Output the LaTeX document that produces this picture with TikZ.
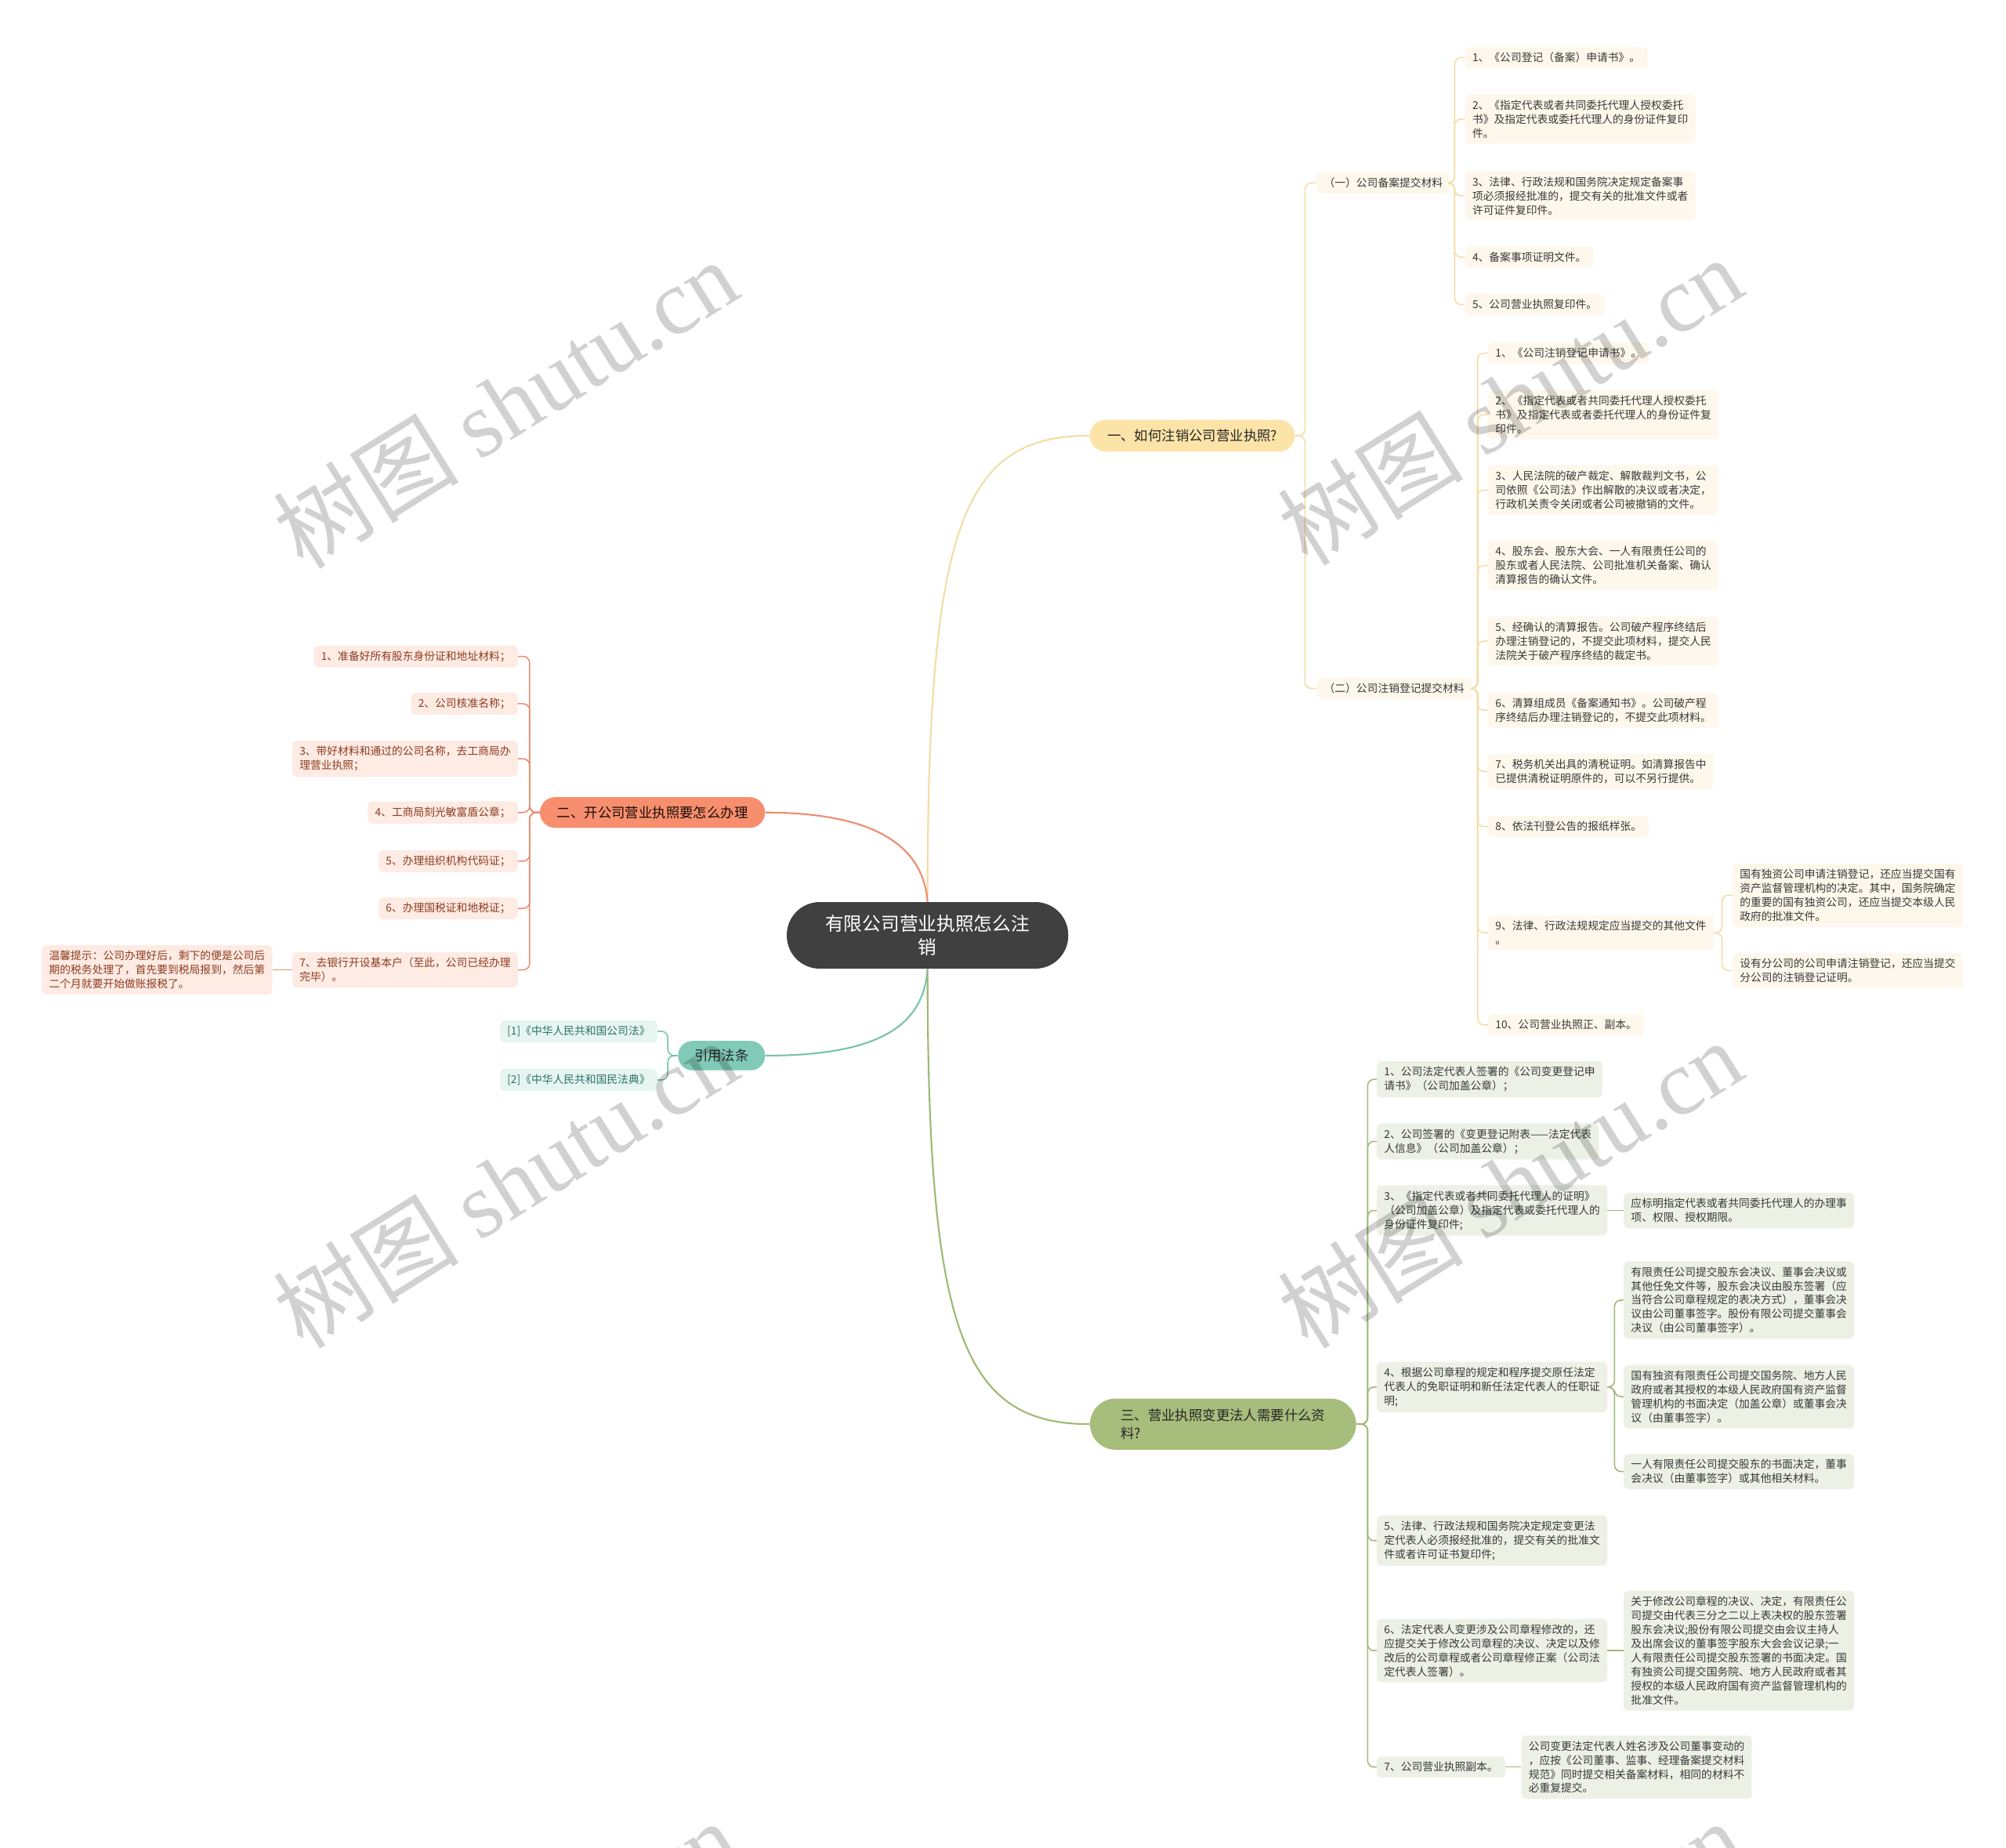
\documentclass[tikz,border=0pt]{standalone}
\usepackage{fontspec}
\setmainfont{Noto Sans CJK SC}
\newfontfamily\markcjk{Noto Sans CJK SC}
\newfontfamily\marklatin{Liberation Serif}
\usetikzlibrary{calc}

\definecolor{rootfill}{HTML}{404040}
\definecolor{yfill}{HTML}{FCE3A8}
\definecolor{yline}{HTML}{F5DCA6}
\definecolor{yleaf}{HTML}{FEF8EC}
\definecolor{ofill}{HTML}{F78F6E}
\definecolor{oline}{HTML}{EC8C6F}
\definecolor{oleaf}{HTML}{FDEBE4}
\definecolor{otext}{HTML}{8E3B1E}
\definecolor{tfill}{HTML}{80CAB7}
\definecolor{tline}{HTML}{76C2AE}
\definecolor{tleaf}{HTML}{E7F5F1}
\definecolor{ttext}{HTML}{2C7463}
\definecolor{gfill}{HTML}{A7BD7B}
\definecolor{gline}{HTML}{A0B874}
\definecolor{gleaf}{HTML}{EDF1E5}

\begin{document}
\begin{tikzpicture}[x=0.03cm, y=-0.03cm,
  root/.style={fill=rootfill, text=white, rounded corners=0.77cm, minimum width=6.6cm,
    minimum height=1.56cm, align=center, font=\fontsize{12.4}{16}\selectfont},
  topic/.style={inner sep=0pt, text=black!85, font=\fontsize{9.1}{12}\selectfont},
  leaf/.style={rounded corners=0.1cm, inner xsep=0.17cm, inner ysep=0.13cm, align=left,
    text=black!78, font=\fontsize{7.2}{9.4}\selectfont},
  yleafbox/.style={leaf, fill=yleaf, anchor=west},
  oleafbox/.style={leaf, fill=oleaf, text=otext, anchor=east},
  tleafbox/.style={leaf, fill=tleaf, text=ttext, anchor=east},
  gleafbox/.style={leaf, fill=gleaf, anchor=west},
  mainlink/.style={line width=1.1pt},
  sublink/.style={line width=0.8pt, rounded corners=0.15cm},
  wmark/.style={rotate=32, text=black, opacity=0.18, font=\fontsize{62}{62}\selectfont}
]

% Page
\fill[white] (0,0) rectangle (1568,1444);
\useasboundingbox (0,0) rectangle (1568,1444);

% Root and main topics
\node[root] (root) at (725,731) {有限公司营业执照怎么注\\销};
\node[topic, fill=yfill, rounded corners=0.37cm, minimum width=4.8cm, minimum height=0.75cm]
  (one) at (932,340.5) {一、如何注销公司营业执照?};
\node[topic, fill=ofill, text=black!80!otext, rounded corners=0.36cm, minimum width=5.28cm, minimum height=0.72cm]
  (two) at (510,635) {二、开公司营业执照要怎么办理};
\node[topic, fill=tfill, rounded corners=0.34cm, minimum width=2.04cm, minimum height=0.69cm]
  (cite) at (564,825) {引用法条};
\node[topic, fill=gfill, rounded corners=0.6cm, minimum width=6.24cm, minimum height=1.2cm, align=left]
  (three) at (956,1113) {三、营业执照变更法人需要什么资\\料?};

\draw[mainlink, yline] (root.north) .. controls (725,410) and (752,340.5) .. (one.west);
\draw[mainlink, oline] (root.north) .. controls (722,665) and (690,635) .. (two.east);
\draw[mainlink, tline] (root.south) .. controls (722,800) and (690,825) .. (cite.east);
\draw[mainlink, gline] (root.south) .. controls (725,1040) and (752,1113) .. (three.west);

% Branch one
\node[yleafbox] (onea) at (1029,143) {（一）公司备案提交材料};
\node[yleafbox] (oneb) at (1029,538) {（二）公司注销登记提交材料};

\node[yleafbox] (oa1) at (1145,45) {1、《公司登记（备案）申请书》。};
\node[yleafbox] (oa2) at (1145,93) {2、《指定代表或者共同委托代理人授权委托\\书》及指定代表或委托代理人的身份证件复印\\件。};
\node[yleafbox] (oa3) at (1145,153) {3、法律、行政法规和国务院决定规定备案事\\项必须报经批准的，提交有关的批准文件或者\\许可证件复印件。};
\node[yleafbox] (oa4) at (1145,201) {4、备案事项证明文件。};
\node[yleafbox] (oa5) at (1145,238) {5、公司营业执照复印件。};

\node[yleafbox] (ob1) at (1163,276) {1、《公司注销登记申请书》。};
\node[yleafbox] (ob2) at (1163,324) {2、《指定代表或者共同委托代理人授权委托\\书》及指定代表或者委托代理人的身份证件复\\印件。};
\node[yleafbox] (ob3) at (1163,383) {3、人民法院的破产裁定、解散裁判文书，公\\司依照《公司法》作出解散的决议或者决定，\\行政机关责令关闭或者公司被撤销的文件。};
\node[yleafbox] (ob4) at (1163,442) {4、股东会、股东大会、一人有限责任公司的\\股东或者人民法院、公司批准机关备案、确认\\清算报告的确认文件。};
\node[yleafbox] (ob5) at (1163,501) {5、经确认的清算报告。公司破产程序终结后\\办理注销登记的，不提交此项材料，提交人民\\法院关于破产程序终结的裁定书。};
\node[yleafbox] (ob6) at (1163,555) {6、清算组成员《备案通知书》。公司破产程\\序终结后办理注销登记的，不提交此项材料。};
\node[yleafbox] (ob7) at (1163,603) {7、税务机关出具的清税证明。如清算报告中\\已提供清税证明原件的，可以不另行提供。};
\node[yleafbox] (ob8) at (1163,646) {8、依法刊登公告的报纸样张。};
\node[yleafbox] (ob9) at (1163,729) {9、法律、行政法规规定应当提交的其他文件\\。};
\node[yleafbox] (ob10) at (1163,801) {10、公司营业执照正、副本。};
\node[yleafbox] (ob9x) at (1354,699.5) {国有独资公司申请注销登记，还应当提交国有\\资产监督管理机构的决定。其中，国务院确定\\的重要的国有独资公司，还应当提交本级人民\\政府的批准文件。};
\node[yleafbox] (ob9y) at (1354,758.5) {设有分公司的公司申请注销登记，还应当提交\\分公司的注销登记证明。};

\foreach \c in {onea,oneb}
  \draw[sublink, yline] (one.east) -| ($(\c.west)+(-9,0)$) -- (\c.west);
\foreach \c in {oa1,oa2,oa3,oa4,oa5}
  \draw[sublink, yline] (onea.east) -| ($(\c.west)+(-8,0)$) -- (\c.west);
\foreach \c in {ob1,ob2,ob3,ob4,ob5,ob6,ob7,ob8,ob9,ob10}
  \draw[sublink, yline] (oneb.east) -| ($(\c.west)+(-8,0)$) -- (\c.west);
\foreach \c in {ob9x,ob9y}
  \draw[sublink, yline] (ob9.east) -| ($(\c.west)+(-8,0)$) -- (\c.west);

% Branch two
\node[oleafbox] (tw1) at (405,513) {1、准备好所有股东身份证和地址材料；};
\node[oleafbox] (tw2) at (405,550) {2、公司核准名称；};
\node[oleafbox] (tw3) at (405,593) {3、带好材料和通过的公司名称，去工商局办\\理营业执照；};
\node[oleafbox] (tw4) at (405,635) {4、工商局刻光敏富盾公章；};
\node[oleafbox] (tw5) at (405,673) {5、办理组织机构代码证；};
\node[oleafbox] (tw6) at (405,710) {6、办理国税证和地税证；};
\node[oleafbox] (tw7) at (405,758) {7、去银行开设基本户（至此，公司已经办理\\完毕）。};
\node[oleafbox] (twtip) at (213,758) {温馨提示：公司办理好后，剩下的便是公司后\\期的税务处理了，首先要到税局报到，然后第\\二个月就要开始做账报税了。};

\foreach \c in {tw1,tw2,tw3,tw4,tw5,tw6,tw7}
  \draw[sublink, oline] (two.west) -| ($(\c.east)+(9,0)$) -- (\c.east);
\draw[sublink, oline] (tw7.west) -- (twtip.east);

% Cited laws
\node[tleafbox] (ci1) at (514,806) {[1]《中华人民共和国公司法》};
\node[tleafbox] (ci2) at (514,844) {[2]《中华人民共和国民法典》};

\foreach \c in {ci1,ci2}
  \draw[sublink, tline] (cite.west) -| ($(\c.east)+(8,0)$) -- (\c.east);

% Branch three
\node[gleafbox] (th1) at (1076,843.5) {1、公司法定代表人签署的《公司变更登记申\\请书》（公司加盖公章）；};
\node[gleafbox] (th2) at (1076,892) {2、公司签署的《变更登记附表——法定代表\\人信息》（公司加盖公章）；};
\node[gleafbox] (th3) at (1076,946) {3、《指定代表或者共同委托代理人的证明》\\（公司加盖公章）及指定代表或委托代理人的\\身份证件复印件;};
\node[gleafbox] (th4) at (1076,1084) {4、根据公司章程的规定和程序提交原任法定\\代表人的免职证明和新任法定代表人的任职证\\明;};
\node[gleafbox] (th5) at (1076,1204) {5、法律、行政法规和国务院决定规定变更法\\定代表人必须报经批准的，提交有关的批准文\\件或者许可证书复印件;};
\node[gleafbox] (th6) at (1076,1290) {6、法定代表人变更涉及公司章程修改的，还\\应提交关于修改公司章程的决议、决定以及修\\改后的公司章程或者公司章程修正案（公司法\\定代表人签署）。};
\node[gleafbox] (th7) at (1076,1381) {7、公司营业执照副本。};

\node[gleafbox] (th3x) at (1269,946) {应标明指定代表或者共同委托代理人的办理事\\项、权限、授权期限。};
\node[gleafbox] (th4x) at (1269,1016) {有限责任公司提交股东会决议、董事会决议或\\其他任免文件等，股东会决议由股东签署（应\\当符合公司章程规定的表决方式），董事会决\\议由公司董事签字。股份有限公司提交董事会\\决议（由公司董事签字）。};
\node[gleafbox] (th4y) at (1269,1091.5) {国有独资有限责任公司提交国务院、地方人民\\政府或者其授权的本级人民政府国有资产监督\\管理机构的书面决定（加盖公章）或董事会决\\议（由董事签字）。};
\node[gleafbox] (th4z) at (1269,1150) {一人有限责任公司提交股东的书面决定，董事\\会决议（由董事签字）或其他相关材料。};
\node[gleafbox] (th6x) at (1269,1290) {关于修改公司章程的决议、决定，有限责任公\\司提交由代表三分之二以上表决权的股东签署\\股东会决议;股份有限公司提交由会议主持人\\及出席会议的董事签字股东大会会议记录;一\\人有限责任公司提交股东签署的书面决定。国\\有独资公司提交国务院、地方人民政府或者其\\授权的本级人民政府国有资产监督管理机构的\\批准文件。};
\node[gleafbox] (th7x) at (1189,1381) {公司变更法定代表人姓名涉及公司董事变动的\\，应按《公司董事、监事、经理备案提交材料\\规范》同时提交相关备案材料，相同的材料不\\必重复提交。};

\foreach \c in {th1,th2,th3,th4,th5,th6,th7}
  \draw[sublink, gline] (three.east) -| ($(\c.west)+(-7,0)$) -- (\c.west);
\foreach \c in {th4x,th4y,th4z}
  \draw[sublink, gline] (th4.east) -| ($(\c.west)+(-7,0)$) -- (\c.west);
\draw[sublink, gline] (th3.east) -- (th3x.west);
\draw[sublink, gline] (th6.east) -- (th6x.west);
\draw[sublink, gline] (th7.east) -- (th7x.west);

% Watermarks
\begin{scope}
\clip (0,0) rectangle (1568,1444);
\foreach \wx/\wy in {395/315, 1180/313, 395/925, 1180/925, 395/1535, 1180/1535}
  \node[wmark] at (\wx,\wy) {{\markcjk 树图} {\marklatin shutu.cn}};
\end{scope}

\end{tikzpicture}
\end{document}
